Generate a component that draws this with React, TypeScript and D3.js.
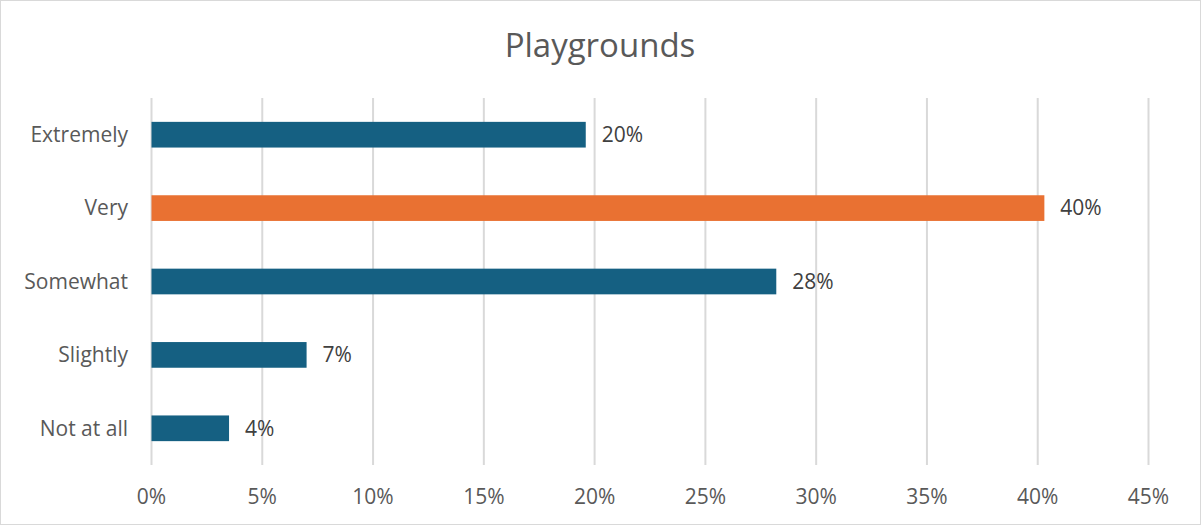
import React from "react";
import * as d3 from "d3";

const categories = ["Extremely", "Very", "Somewhat", "Slightly", "Not at all"];
const values = [0.196, 0.403, 0.282, 0.07, 0.035];
const labels = ["20%", "40%", "28%", "7%", "4%"];
const ticks = [0, 0.05, 0.1, 0.15, 0.2, 0.25, 0.3, 0.35, 0.4, 0.45];
const highlight = "Very";

const W = 1201;
const H = 525;
const FONT = "'Open Sans', 'Noto Sans', sans-serif";

export default function App() {
  const x = d3.scaleLinear().domain([0, 0.45]).range([151.5, 1148.5]);
  const y = d3.scaleBand().domain(categories).range([98, 465]).paddingInner(0.65).paddingOuter(0.325);
  const fmt = d3.format(".0%");
  return (
    <svg width={W} height={H} style={{ position: "absolute", left: 0, top: 0 }}>
      <rect x={0.5} y={0.5} width={W - 1} height={H - 1} fill="#fff" stroke="#d9d9d9" />
      <text x={600} y={57} textAnchor="middle" fontFamily={FONT} fontSize={33} fill="#595959">Playgrounds</text>
      {ticks.map((t) => (
        <g key={t}>
          <line x1={x(t)} x2={x(t)} y1={98} y2={465} stroke="#d9d9d9" strokeWidth={2} />
          <text x={x(t)} y={504} textAnchor="middle" fontFamily={FONT} fontSize={21} fill="#595959">{fmt(t)}</text>
        </g>
      ))}
      {categories.map((c, i) => {
        const yy = y(c)!;
        const bw = y.bandwidth();
        return (
          <g key={c}>
            <rect x={x(0)} y={yy} width={x(values[i]) - x(0)} height={bw} fill={c === highlight ? "#e97132" : "#156082"} />
            <text x={128} y={yy + bw / 2} dy="0.35em" textAnchor="end" fontFamily={FONT} fontSize={21} fill="#595959">{c}</text>
            <text x={x(values[i]) + 16} y={yy + bw / 2} dy="0.35em" fontFamily={FONT} fontSize={21} fill="#404040">{labels[i]}</text>
          </g>
        );
      })}
    </svg>
  );
}
